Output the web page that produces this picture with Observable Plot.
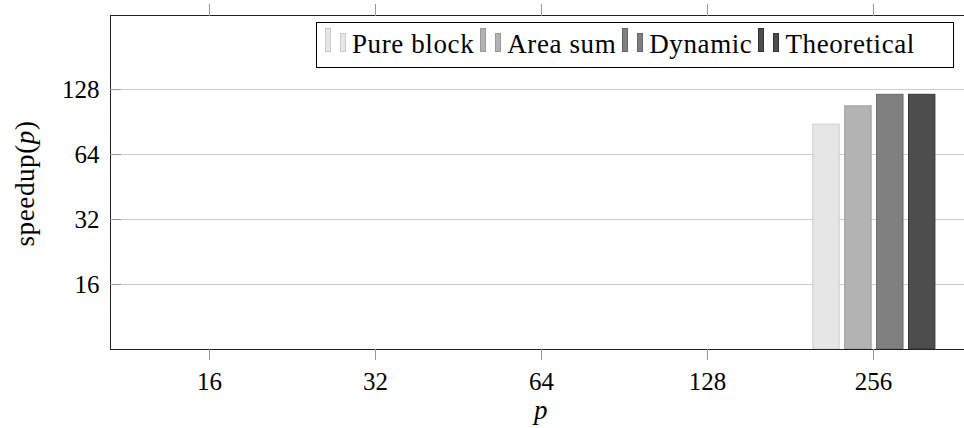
<!DOCTYPE html>
<html>
<head>
<meta charset="utf-8">
<script src="https://cdn.jsdelivr.net/npm/d3@7"></script>
<script src="https://cdn.jsdelivr.net/npm/@observablehq/plot@0.6"></script>
<style>
  html, body { margin: 0; padding: 0; background: white; overflow: hidden; }
  #wrap { position: relative; width: 964px; height: 428px; font-family: "Liberation Serif", serif; color: black; }
  #legend { position: absolute; left: 316px; top: 22px; width: 638px; height: 46px; box-sizing: border-box;
    border: 1px solid black; background: white; display: flex; align-items: flex-end; padding: 0 0 15px 8px;
    font-family: "Liberation Serif", serif; }
  .item { display: flex; align-items: flex-end; margin-right: 6px; }
  .icon { display: inline-block; width: 6px; box-sizing: border-box; border: 1px solid; }
  .txt { font-family: "Liberation Serif", serif; font-size: 27px; line-height: 1; letter-spacing: 0.6px;
    margin-left: 6px; margin-bottom: -6px; white-space: nowrap; }
  .lab { position: absolute; font-family: "Liberation Serif", serif; font-size: 27px; line-height: 1;
    letter-spacing: 0.6px; white-space: nowrap; text-align: center; }
</style>
</head>
<body>
<div id="wrap"></div>
<script>
// ---- data ----
const P = [16, 32, 64, 128, 256];
const SERIES = ["Pure block", "Area sum", "Dynamic", "Theoretical"];
const pureBlock   = [null, null, null, null, 88];
const areaSum     = [null, null, null, null, 107];
const dynamic     = [null, null, null, null, 121];
const theoretical = [null, null, null, null, 121];
const Y_TICKS = [16, 32, 64, 128];
const Y_DOMAIN = [8, 282];

// ---- styles ----
const FILLS   = ["#e6e6e6", "#b3b3b3", "#808080", "#4d4d4d"];
const STROKES = ["#cccccc", "#999999", "#666666", "#333333"];
const BAND = 167, BAR_W = 27.4, BAR_STEP = 31.9, GROUP_OFF = 22.8;

const seriesValues = [pureBlock, areaSum, dynamic, theoretical];
const rows = seriesValues.map((vals, k) =>
  P.map((p, i) => ({p, series: SERIES[k], value: vals[i]})).filter(d => d.value != null));

const barMarks = rows.map((data, k) => {
  const left = GROUP_OFF + BAR_STEP * k;
  return Plot.barY(data, {
    x: "p", y1: Y_DOMAIN[0], y2: "value",
    fill: FILLS[k], stroke: STROKES[k], strokeWidth: 1,
    insetLeft: left, insetRight: BAND - left - BAR_W
  });
});

const chart = Plot.plot({
  width: 964, height: 428,
  marginLeft: 110, marginRight: 0, marginTop: 15, marginBottom: 79,
  style: {fontFamily: "Liberation Serif", fontSize: "25px", color: "black", background: "white"},
  x: {type: "band", domain: P, range: [110, 972], paddingInner: 0, paddingOuter: 0.081, label: null},
  y: {type: "log", base: 2, domain: Y_DOMAIN, label: null},
  marks: [
    Plot.ruleY(Y_TICKS, {stroke: "#cccccc", strokeWidth: 1}),
    ...barMarks,
    Plot.frame({stroke: "#222"}),
    Plot.axisY(Y_TICKS, {tickSize: -11, tickPadding: 22, stroke: "#999", fill: "black", fontSize: 25, label: null}),
    Plot.axisX({anchor: "bottom", tickSize: 11, tickPadding: 12, stroke: "#999", fill: "black", fontSize: 25, label: null}),
    Plot.axisX({anchor: "top", tickSize: 12, tickFormat: () => "", stroke: "#999", label: null})
  ]
});

const wrap = document.getElementById("wrap");
wrap.appendChild(chart);

// legend
const legend = document.createElement("div");
legend.id = "legend";
SERIES.forEach((s, k) => {
  const item = document.createElement("div");
  item.className = "item";
  const i1 = document.createElement("span");
  i1.className = "icon";
  i1.style.cssText = `height:24px;background:${FILLS[k]};border-color:${STROKES[k]};margin-right:9px;`;
  const i2 = document.createElement("span");
  i2.className = "icon";
  i2.style.cssText = `height:19px;background:${FILLS[k]};border-color:${STROKES[k]};`;
  const t = document.createElement("span");
  t.className = "txt";
  t.textContent = s;
  item.append(i1, i2, t);
  legend.appendChild(item);
});
wrap.appendChild(legend);

// axis labels
const xl = document.createElement("div");
xl.className = "lab";
xl.style.cssText = "left:441px;width:200px;top:397px;font-style:italic;";
xl.textContent = "p";
wrap.appendChild(xl);

const yl = document.createElement("div");
yl.className = "lab";
yl.style.cssText = "left:-125px;width:300px;top:169.5px;transform:rotate(-90deg);";
yl.innerHTML = 'speedup(<i>p</i>)';
wrap.appendChild(yl);
</script>
</body>
</html>
